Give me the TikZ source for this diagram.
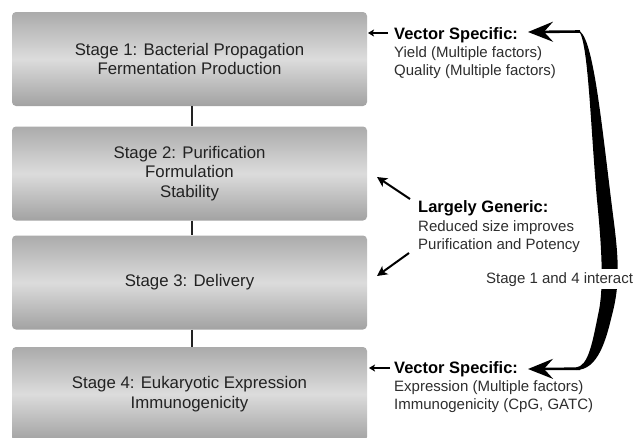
\documentclass[tikz,border=0pt]{standalone}
\usepackage{fontspec}
\setmainfont{Liberation Sans}
\usetikzlibrary{arrows.meta,calc}
\definecolor{boxtop}{HTML}{ABABAB}
\definecolor{boxmid}{HTML}{DCDCDC}
\definecolor{boxbot}{HTML}{A2A2A2}
\definecolor{ink}{HTML}{222222}
\definecolor{softink}{HTML}{2E2E2E}
\begin{document}
\begin{tikzpicture}[x=1pt,y=-1pt,
  stagebox/.style={rounded corners=4pt, top color=boxtop, bottom color=boxbot,
    middle color=boxmid, minimum width=355pt, minimum height=94pt, inner sep=0pt,
    align=center, text=ink, font=\fontsize{16.8}{19.6}\selectfont},
  head/.style={font=\bfseries\fontsize{16.5}{18}\selectfont, inner sep=0pt, anchor=base west, text=black},
  body/.style={font=\fontsize{15}{17}\selectfont, inner sep=0pt, anchor=base west, text=softink},
  link/.style={draw=ink, line width=1.3pt},
  smallarr/.style={draw=black, line width=1.4pt, -{Stealth[length=6pt,width=7pt,inset=1.5pt]}},
  genarr/.style={draw=black, line width=2pt, -{Stealth[length=10pt,width=10pt,inset=2.5pt]}},
  bigarr/.style={draw=black, line width=2.6pt, -{Stealth[length=25pt,width=20pt,inset=9pt]}}]
\useasboundingbox (0,0) rectangle (634,437);
\clip (0,0) rectangle (634,437);
\fill[white] (0,0) rectangle (634,437);

% the four stages
\node[stagebox] (b1) at (189.5,59) {Stage 1: Bacterial Propagation\\Fermentation Production};
\node[stagebox] (b2) at (189.5,173.5) {Stage 2: Purification\\Formulation\\Stability};
\node[stagebox] (b3) at (189.5,282.5) {Stage 3: Delivery};
\node[stagebox] (b4) at (189.5,394) {Stage 4: Eukaryotic Expression\\Immunogenicity};

\draw[link] ([xshift=2.5pt]b1.south) -- ([xshift=2.5pt]b2.north);
\draw[link] ([xshift=2.5pt]b2.south) -- ([xshift=2.5pt]b3.north);
\draw[link] ([xshift=2.5pt]b3.south) -- ([xshift=2.5pt]b4.north);

% tapered link between stage 1 and stage 4
\fill[black] (577,30) .. controls (588,31) and (590,120) .. (597,200)
  .. controls (602,250) and (604,290) .. (598,315)
  .. controls (592,345) and (588,366) .. (576,367.5)
  -- (576,370) .. controls (598,370) and (606,340) .. (612,315)
  .. controls (620,285) and (619,260) .. (613,215)
  .. controls (601,120) and (593,31) .. (577,30) -- cycle;
\coordinate (tt) at (580,31.5);
\coordinate (th) at (528,32);
\coordinate (bt) at (580,368.7);
\coordinate (bh) at (528,369);
\draw[bigarr] (tt) -- (th);
\draw[bigarr] (bt) -- (bh);

% annotations
\node[head] (vs1) at (394,39) {Vector Specific:};
\node[body] (vs1a) at (394,57) {Yield (Multiple factors)};
\node[body] (vs1b) at (394,75) {Quality (Multiple factors)};

\node[head] (lg) at (418,212) {Largely Generic:};
\node[body] (lga) at (418,231) {Reduced size improves};
\node[body] (lgb) at (418,249) {Purification and Potency};

\node[body, fill=white, inner sep=3pt] (inter) at (483,283) {Stage 1 and 4 interact};

\node[head] (vs4) at (394,373) {Vector Specific:};
\node[body] (vs4a) at (394,391) {Expression (Multiple factors)};
\node[body] (vs4b) at (394,409) {Immunogenicity (CpG, GATC)};

\draw[smallarr] ($(vs1.base west)+(-6,-6)$) -- ($(vs1.base west)+(-26,-6)$);
\draw[smallarr] ($(vs4.base west)+(-4,-5)$) -- ($(vs4.base west)+(-25,-5)$);
\draw[genarr] ($(lg.base west)+(-8,-13)$) -- ($(lg.base west)+(-41,-35)$);
\draw[genarr] ($(lgb.base west)+(-9,4)$) -- ($(lgb.base west)+(-41,27)$);
\end{tikzpicture}
\end{document}
